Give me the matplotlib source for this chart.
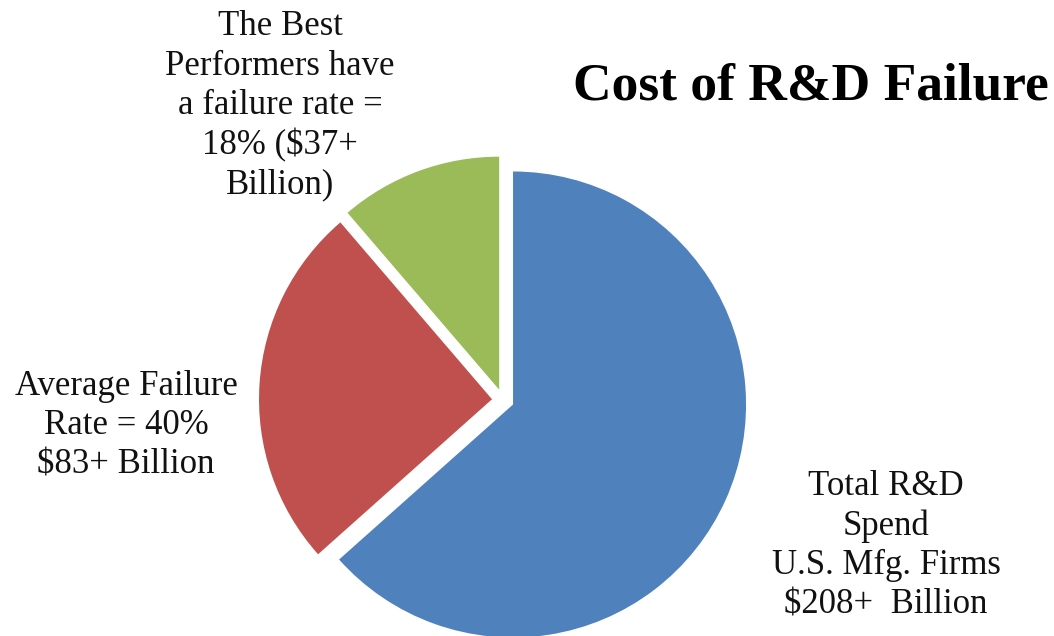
import matplotlib
matplotlib.use("Agg")
import matplotlib.pyplot as plt

# Data
categories = ["Total R&D Spend U.S. Mfg. Firms", "Average Failure Rate", "Best Performers Failure Rate"]
values = [208, 83, 37]
colors = ["#4F81BD", "#C0504D", "#9BBB59"]
label_texts = [
    "Total R&D\nSpend\nU.S. Mfg. Firms\n$208+  Billion",
    "Average Failure\nRate = 40%\n$83+ Billion",
    "The Best\nPerformers have\na failure rate =\n18% ($37+\nBillion)",
]
title = "Cost of R&D Failure"

W, H = 1054, 636
fig = plt.figure(figsize=(W / 100, H / 100), dpi=100)
ax = fig.add_axes([0, 0, 1, 1])

cx, cy = 503, H - 400
radius = 233
ax.pie(values, colors=colors, startangle=90, counterclock=False,
       radius=radius, center=(cx, cy), explode=[11, 11, 11],
       wedgeprops=dict(linewidth=0), frame=True)
ax.set_xlim(0, W)
ax.set_ylim(0, H)
ax.set_aspect("equal")
ax.axis("off")

serif = ["Liberation Serif", "DejaVu Serif"]
ax.text(811, H - 100, title, fontsize=38.5, fontweight="bold", family=serif,
        ha="center", va="baseline", color="#000000")

label_pos = [(886, H - 546), (126, H - 426), (280, H - 106)]
for txt, (x, y) in zip(label_texts, label_pos):
    ax.text(x, y, txt, fontsize=25, family=serif, ha="center", va="center",
            multialignment="center", linespacing=1.25, color="#111111")

fig.savefig("out.png", dpi=100)
